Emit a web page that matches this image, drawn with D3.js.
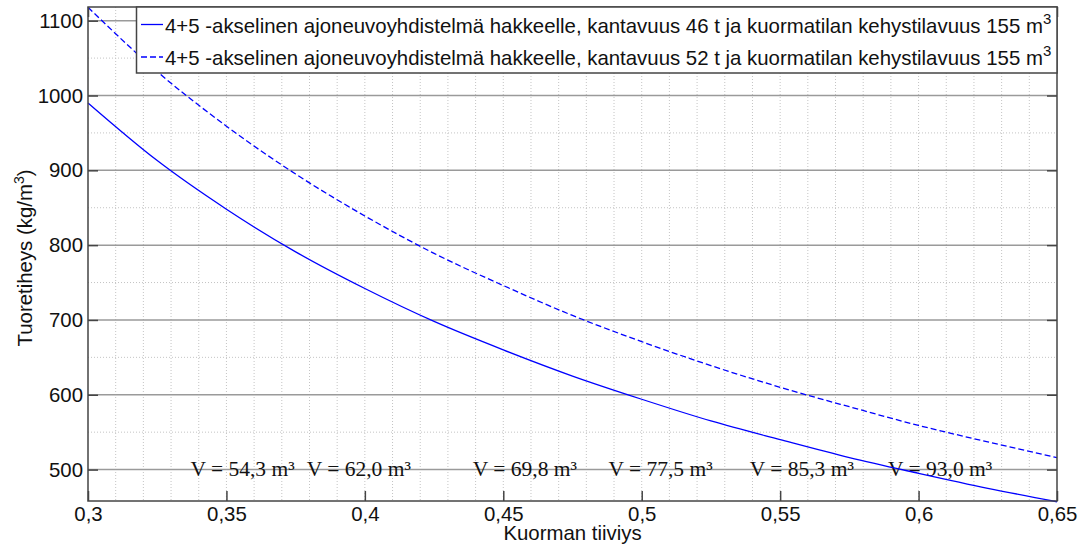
<!DOCTYPE html>
<html>
<head>
<meta charset="utf-8">
<script src="https://cdn.jsdelivr.net/npm/d3@7"></script>
<style>
  body { margin: 0; background: #fff; }
  svg { display: block; }
  text { font-family: "Liberation Sans", Arial, sans-serif; fill: #111; }
</style>
</head>
<body>
<svg width="1079" height="545"></svg>
<script>
// values
var tiiviys = [0.3, 0.325, 0.35, 0.375, 0.4, 0.425, 0.45, 0.475, 0.5, 0.525, 0.55, 0.575, 0.6, 0.625, 0.65];
var tiheys46 = [990, 913, 848, 791, 742, 698, 660, 625, 594, 565, 540, 516, 495, 475, 457];
var tiheys52 = [1118, 1032, 959, 895, 839, 789, 746, 706, 671, 639, 610, 584, 559, 537, 516];
var legendLabels = [
  "4+5 -akselinen ajoneuvoyhdistelmä hakkeelle, kantavuus 46 t ja kuormatilan kehystilavuus 155 m",
  "4+5 -akselinen ajoneuvoyhdistelmä hakkeelle, kantavuus 52 t ja kuormatilan kehystilavuus 155 m"
];
var xTicks = [0.3, 0.35, 0.4, 0.45, 0.5, 0.55, 0.6, 0.65];
var xTickLabels = ["0,3", "0,35", "0,4", "0,45", "0,5", "0,55", "0,6", "0,65"];
var yTicks = [500, 600, 700, 800, 900, 1000, 1100];
var vLabels = ["V = 54,3 m³", "V = 62,0 m³", "V = 69,8 m³", "V = 77,5 m³", "V = 85,3 m³", "V = 93,0 m³"];
var vLabelX = [0.337, 0.379, 0.439, 0.488, 0.539, 0.589];

var svg = d3.select("svg");
var pLeft = 88, pRight = 1057, pTop = 7, pBottom = 501;

var x = d3.scaleLinear().domain([0.3, 0.65]).range([pLeft, pRight]);
var y = d3.scaleLinear().domain([458, 1118.3]).range([pBottom, pTop]);

// minor grid (dotted)
var grid = svg.append("g");
grid.selectAll(".vminor")
  .data(d3.range(31, 65).map(function(d){ return d / 100; }))
  .enter().append("line")
  .attr("x1", function(d){ return x(d); }).attr("x2", function(d){ return x(d); })
  .attr("y1", pTop).attr("y2", pBottom)
  .attr("stroke", "#c4c4c4").attr("stroke-dasharray", "1,2");
grid.selectAll(".hminor")
  .data(d3.range(550, 1101, 100))
  .enter().append("line")
  .attr("x1", pLeft).attr("x2", pRight)
  .attr("y1", function(d){ return y(d); }).attr("y2", function(d){ return y(d); })
  .attr("stroke", "#c4c4c4").attr("stroke-dasharray", "1,2");
// major horizontal grid (solid)
grid.selectAll(".hmajor")
  .data(yTicks)
  .enter().append("line")
  .attr("x1", pLeft).attr("x2", pRight)
  .attr("y1", function(d){ return y(d); }).attr("y2", function(d){ return y(d); })
  .attr("stroke", "#9a9a9a").attr("stroke-width", 1.5);

// V annotations
svg.append("g").selectAll("text")
  .data(vLabels)
  .enter().append("text")
  .attr("x", function(d, i){ return x(vLabelX[i]); })
  .attr("y", y(492))
  .style("font-family", "'Liberation Serif', 'Times New Roman', serif")
  .style("font-size", "21.5px")
  .text(function(d){ return d; });

// curves
var pts46 = tiiviys.map(function(d, i){ return [d, tiheys46[i]]; });
var pts52 = tiiviys.map(function(d, i){ return [d, tiheys52[i]]; });
var line = d3.line()
  .x(function(d){ return x(d[0]); })
  .y(function(d){ return y(d[1]); })
  .curve(d3.curveMonotoneX);
svg.append("path").datum(pts46).attr("d", line)
  .attr("fill", "none").attr("stroke", "#0000ff").attr("stroke-width", 1.3);
svg.append("path").datum(pts52).attr("d", line)
  .attr("fill", "none").attr("stroke", "#0000ff").attr("stroke-width", 1.3)
  .attr("stroke-dasharray", "6,3");

// axes with inward ticks
var xAxis = svg.append("g").attr("transform", "translate(0," + pBottom + ")")
  .call(d3.axisBottom(x).tickValues(xTicks).tickSizeInner(-10).tickSizeOuter(0)
    .tickFormat(function(d, i){ return xTickLabels[i]; }));
svg.append("g").attr("transform", "translate(0," + pTop + ")")
  .call(d3.axisTop(x).tickValues(xTicks).tickSizeInner(-10).tickSizeOuter(0).tickFormat(""));
var yAxis = svg.append("g").attr("transform", "translate(" + pLeft + ",0)")
  .call(d3.axisLeft(y).tickValues(yTicks).tickSizeInner(-10).tickSizeOuter(0)
    .tickFormat(d3.format("d")));
svg.append("g").attr("transform", "translate(" + pRight + ",0)")
  .call(d3.axisRight(y).tickValues(yTicks).tickSizeInner(-10).tickSizeOuter(0).tickFormat(""));
svg.selectAll(".domain").remove();
svg.selectAll(".tick line").attr("stroke", "#444").attr("stroke-width", 1.5);
svg.selectAll(".tick text").attr("fill", "#111")
  .style("font-family", "'Liberation Sans', Arial, sans-serif").style("font-size", "20.4px");
xAxis.selectAll(".tick text").attr("y", 6).attr("dy", "0.71em");
yAxis.selectAll(".tick text").attr("x", -5);

// frame
svg.append("rect")
  .attr("x", pLeft).attr("y", pTop).attr("width", pRight - pLeft).attr("height", pBottom - pTop)
  .attr("fill", "none").attr("stroke", "#444").attr("stroke-width", 1.5);

// axis titles
svg.append("text")
  .attr("x", (pLeft + pRight) / 2).attr("y", 540)
  .attr("text-anchor", "middle").style("font-size", "20.4px")
  .text("Kuorman tiiviys");
var ylab = svg.append("text")
  .attr("transform", "translate(32," + ((pTop + pBottom) / 2 + 4) + ") rotate(-90)")
  .attr("text-anchor", "middle").style("font-size", "20.4px");
ylab.append("tspan").text("Tuoretiheys (kg/m");
ylab.append("tspan").attr("dy", -8).style("font-size", "14px").text("3");
ylab.append("tspan").attr("dy", 8).text(")");

// legend
var lg = svg.append("g");
lg.append("rect")
  .attr("x", 136.5).attr("y", pTop).attr("width", pRight - 136.5).attr("height", 66)
  .attr("fill", "#fff").attr("stroke", "#444").attr("stroke-width", 1.5);
var rows = lg.selectAll(".row")
  .data(legendLabels)
  .enter().append("g")
  .attr("transform", function(d, i){ return "translate(0," + (24.5 + i * 32.5) + ")"; });
rows.append("line")
  .attr("x1", 141).attr("x2", 163).attr("y1", 0).attr("y2", 0)
  .attr("stroke", "#0000ff").attr("stroke-width", 1.3)
  .attr("stroke-dasharray", function(d, i){ return i ? "6,3" : null; });
var lt = rows.append("text")
  .attr("x", 165).attr("y", 8).style("font-size", "20.4px");
lt.append("tspan").text(function(d){ return d; });
lt.append("tspan").attr("dy", -9).style("font-size", "15px").text("3");
</script>
</body>
</html>
